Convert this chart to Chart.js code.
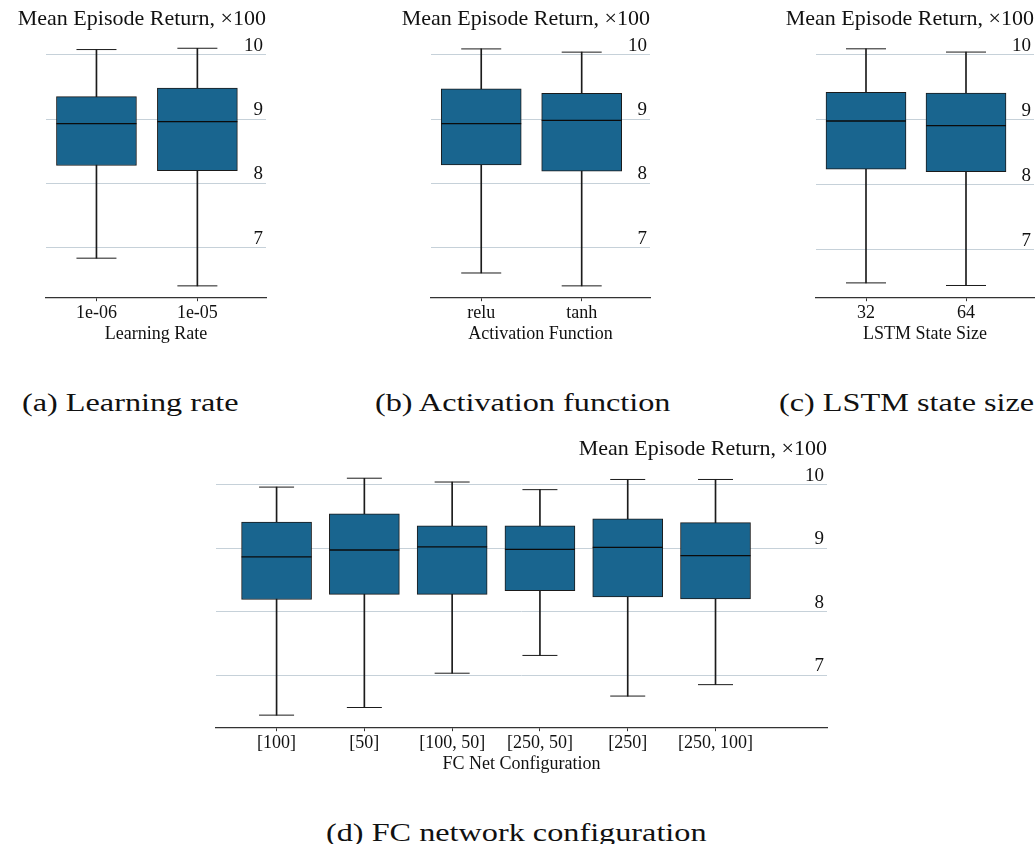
<!DOCTYPE html>
<html>
<head>
<meta charset="utf-8">
<script src="https://cdn.jsdelivr.net/npm/chart.js@4.4.1/dist/chart.umd.min.js"></script>
<style>
  body { margin: 0; background: #fff; }
  #page { position: relative; width: 1036px; height: 844px; overflow: hidden; }
  canvas { position: absolute; }
  .cap { position: absolute; font-family: "Liberation Serif", serif; font-size: 26px; color: #111; white-space: nowrap; line-height: 1; transform: scaleX(1.24); transform-origin: 0 0; }
</style>
</head>
<body>
<div id="page">
  <canvas id="chartLr" width="280" height="346" style="left:0;top:0"></canvas>
  <canvas id="chartAct" width="280" height="346" style="left:380px;top:0"></canvas>
  <canvas id="chartLstm" width="276" height="346" style="left:760px;top:0"></canvas>
  <canvas id="chartFc" width="670" height="346" style="left:170px;top:430px"></canvas>
  <div class="cap" style="left:22px;top:390px">(a) Learning rate</div>
  <div class="cap" style="left:375px;top:390px">(b) Activation function</div>
  <div class="cap" style="left:779px;top:390px">(c) LSTM state size</div>
  <div class="cap" style="left:326px;top:820px">(d) FC network configuration</div>
</div>
<script>
// values (returns, x100)
const lrCats = ['1e-06', '1e-05'];
const lrLow = [6.84, 6.41];
const lrQ1 = [8.28, 8.20];
const lrMed = [8.93, 8.96];
const lrQ3 = [9.35, 9.48];
const lrHigh = [10.08, 10.10];

const actCats = ['relu', 'tanh'];
const actLow = [6.61, 6.41];
const actQ1 = [8.29, 8.19];
const actMed = [8.93, 8.98];
const actQ3 = [9.47, 9.40];
const actHigh = [10.09, 10.04];

const lstmCats = ['32', '64'];
const lstmLow = [6.49, 6.45];
const lstmQ1 = [8.24, 8.20];
const lstmMed = [8.98, 8.91];
const lstmQ3 = [9.42, 9.41];
const lstmHigh = [10.09, 10.04];

const fcCats = ['[100]', '[50]', '[100, 50]', '[250, 50]', '[250]', '[250, 100]'];
const fcLow = [6.37, 6.49, 7.03, 7.31, 6.67, 6.85];
const fcQ1 = [8.19, 8.27, 8.27, 8.33, 8.23, 8.20];
const fcMed = [8.86, 8.97, 9.02, 8.98, 9.01, 8.88];
const fcQ3 = [9.41, 9.54, 9.35, 9.35, 9.46, 9.40];
const fcHigh = [9.96, 10.10, 10.04, 9.92, 10.08, 10.08];

const yTicks = [7, 8, 9, 10];
const yTitle = 'Mean Episode Return, \u00d7100';

const BOX_COLOR = '#19658f';
const EDGE = '#1b1b1b';
const GRID = '#c6d1d9';
const SERIF = "'Liberation Serif', 'Times New Roman', serif";

function makeBoxChart(id, cats, low, q1, med, q3, high, o) {
  const ctx = document.getElementById(id);
  const idx = cats.map((c, i) => i);
  new Chart(ctx, {
    type: 'bar',
    data: {
      datasets: [
        {
          // whisker stems
          data: idx.map(i => ({ x: i, y: [low[i], high[i]] })),
          backgroundColor: EDGE,
          barThickness: 1,
          grouped: false,
          xAxisID: 'x', yAxisID: 'y',
          order: 3
        },
        {
          // interquartile boxes
          data: idx.map(i => ({ x: i, y: [q1[i], q3[i]] })),
          backgroundColor: BOX_COLOR,
          borderColor: EDGE,
          borderWidth: 1,
          borderSkipped: false,
          barThickness: o.boxWidth,
          grouped: false,
          xAxisID: 'x', yAxisID: 'y',
          order: 2
        },
        {
          // whisker caps
          type: 'line',
          showLine: false,
          data: idx.map(i => ({ x: i, y: low[i] })).concat(idx.map(i => ({ x: i, y: high[i] }))),
          pointStyle: 'line',
          pointRadius: o.boxWidth / 4,
          borderColor: EDGE,
          pointBorderWidth: 1,
          xAxisID: 'x', yAxisID: 'y',
          order: 1
        },
        {
          // medians
          type: 'line',
          showLine: false,
          data: idx.map(i => ({ x: i, y: med[i] })),
          pointStyle: 'line',
          pointRadius: o.boxWidth / 2,
          borderColor: '#0b0b0b',
          pointBorderWidth: 1.3,
          xAxisID: 'x', yAxisID: 'y',
          order: 0
        }
      ]
    },
    options: {
      responsive: false,
      animation: false,
      layout: { autoPadding: false, padding: { left: 4, right: o.padRight, top: 0, bottom: 3 } },
      plugins: {
        legend: { display: false },
        tooltip: { enabled: false },
        title: {
          display: true,
          text: yTitle,
          align: 'end',
          color: '#111',
          font: { family: SERIF, size: 22, weight: 'normal' },
          padding: { top: 6, bottom: 12 }
        }
      },
      scales: {
        x: {
          type: 'linear',
          offset: false,
          min: o.xMin,
          max: o.xMax,
          afterBuildTicks: (scale) => { scale.ticks = idx.map(i => ({ value: i })); },
          ticks: {
            color: '#111',
            font: { family: SERIF, size: 18, lineHeight: 1.1 },
            padding: 2,
            maxRotation: 0,
            autoSkip: false,
            callback: (v) => cats[v]
          },
          grid: { offset: false, drawOnChartArea: false, drawTicks: true, tickLength: 4, color: '#333' },
          border: { display: true, color: '#333', width: 1.3 },
          title: {
            display: true,
            text: o.xLabel,
            color: '#111',
            font: { family: SERIF, size: 18, lineHeight: 1.0 },
            padding: { top: 0, bottom: 0 }
          }
        },
        // empty left axis only reserves the blank margin left of the plot
        gap: {
          type: 'linear',
          position: 'left',
          display: true,
          ticks: { display: false },
          grid: { display: false },
          border: { display: false },
          afterFit: (s) => { s.width = o.padLeft - 4; }
        },
        y: {
          position: 'right',
          min: o.yMin,
          max: o.yMax,
          afterBuildTicks: (scale) => { scale.ticks = yTicks.map(v => ({ value: v })); },
          afterFit: (s) => { s.width = 0; },
          ticks: {
            mirror: true,
            padding: -3,
            labelOffset: -9,
            color: '#111',
            font: { family: SERIF, size: 19 }
          },
          grid: { color: GRID, lineWidth: 1, drawTicks: false },
          border: { display: false }
        }
      }
    }
  });
}

makeBoxChart('chartLr', lrCats, lrLow, lrQ1, lrMed, lrQ3, lrHigh,
  { xLabel: 'Learning Rate', padLeft: 46, padRight: 14, xMin: -0.5, xMax: 1.68, yMin: 6.234, yMax: 10.16, boxWidth: 80 });
makeBoxChart('chartAct', actCats, actLow, actQ1, actMed, actQ3, actHigh,
  { xLabel: 'Activation Function', padLeft: 51, padRight: 10, xMin: -0.5, xMax: 1.68, yMin: 6.234, yMax: 10.16, boxWidth: 80 });
makeBoxChart('chartLstm', lstmCats, lstmLow, lstmQ1, lstmMed, lstmQ3, lstmHigh,
  { xLabel: 'LSTM State Size', padLeft: 56, padRight: 2, xMin: -0.5, xMax: 1.68, yMin: 6.27, yMax: 10.158, boxWidth: 80 });
makeBoxChart('chartFc', fcCats, fcLow, fcQ1, fcMed, fcQ3, fcHigh,
  { xLabel: 'FC Net Configuration', padLeft: 46, padRight: 13, xMin: -0.69, xMax: 6.27, yMin: 6.18, yMax: 10.16, boxWidth: 70 });
</script>
</body>
</html>
